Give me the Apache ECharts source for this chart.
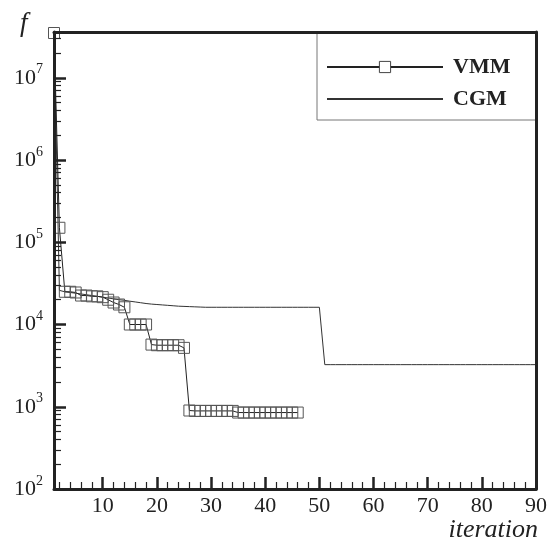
<!DOCTYPE html>
<html>
<head>
<meta charset="utf-8">
<script src="https://cdn.jsdelivr.net/npm/echarts@6/dist/echarts.min.js"></script>
<style>
  html, body { margin: 0; padding: 0; background: #fff; }
  #lineChart { width: 550px; height: 542px; }
</style>
</head>
<body>
<div id="lineChart"></div>
<script>
// f value per iteration (iteration = index + 1)
const vmmValues = [
  3.5e7, 1.5e5, 2.5e4, 2.5e4, 2.45e4, 2.25e4, 2.25e4, 2.2e4, 2.2e4, 2.15e4,
  2.0e4, 1.85e4, 1.75e4, 1.62e4, 1.0e4, 1.0e4, 1.0e4, 1.0e4, 5.7e3, 5.6e3,
  5.6e3, 5.6e3, 5.6e3, 5.6e3, 5.2e3, 900, 890, 890, 890, 890,
  890, 890, 890, 890, 850, 850, 850, 850, 850, 850,
  850, 850, 850, 850, 850, 850
];
const cgmValues = [
  3.5e7, 2.6e4, 2.5e4, 2.45e4, 2.4e4, 2.35e4, 2.3e4, 2.25e4, 2.2e4, 2.15e4,
  2.1e4, 2.05e4, 2.0e4, 1.97e4, 1.92e4, 1.88e4, 1.84e4, 1.8e4, 1.77e4, 1.75e4,
  1.73e4, 1.71e4, 1.69e4, 1.67e4, 1.66e4, 1.65e4, 1.64e4, 1.63e4, 1.62e4, 1.62e4,
  1.62e4, 1.62e4, 1.62e4, 1.62e4, 1.62e4, 1.62e4, 1.62e4, 1.62e4, 1.62e4, 1.62e4,
  1.62e4, 1.62e4, 1.62e4, 1.62e4, 1.62e4, 1.62e4, 1.62e4, 1.62e4, 1.62e4, 1.62e4,
  3.25e3, 3.25e3, 3.25e3, 3.25e3, 3.25e3, 3.25e3, 3.25e3, 3.25e3, 3.25e3, 3.25e3,
  3.25e3, 3.25e3, 3.25e3, 3.25e3, 3.25e3, 3.25e3, 3.25e3, 3.25e3, 3.25e3, 3.25e3,
  3.25e3, 3.25e3, 3.25e3, 3.25e3, 3.25e3, 3.25e3, 3.25e3, 3.25e3, 3.25e3, 3.25e3,
  3.25e3, 3.25e3, 3.25e3, 3.25e3, 3.25e3, 3.25e3, 3.25e3, 3.25e3, 3.25e3, 3.25e3
];
const xLabels = [10, 20, 30, 40, 50, 60, 70, 80, 90];
const xMajorTicks = [10, 20, 30, 40, 50, 60, 70, 80];
const xMinorTicks = [2, 4, 6, 8, 12, 14, 16, 18, 22, 24, 26, 28, 32, 34, 36, 38,
  42, 44, 46, 48, 52, 54, 56, 58, 62, 64, 66, 68, 72, 74, 76, 78, 82, 84, 86, 88];
const yDecades = [2, 3, 4, 5, 6, 7]; // exponents: 10^2 .. 10^7
const yMinorMult = [2, 3, 4, 5, 6, 7, 8, 9];
const xMin = 1, xMax = 90;
const yMin = 2, yMax = Math.log10(3.6e7);

const serif = "'Liberation Serif', 'DejaVu Serif', serif";
const ink = "#222";

// log-spaced minor ticks (2..9 x 10^n) on the log10 value axis
const yMinorTicks = [];
yDecades.forEach(function (d) {
  yMinorMult.forEach(function (m) {
    const v = d + Math.log10(m);
    if (v < yMax) yMinorTicks.push(v);
  });
});

function toPoints(values) {
  return values.map(function (v, i) { return [i + 1, Math.log10(v)]; });
}

const chart = echarts.init(document.getElementById("lineChart"), null, { renderer: "canvas" });

const frameLine = { show: true, onZero: false, lineStyle: { color: ink, width: 3 } };

const option = {
  animation: false,
  backgroundColor: "#fff",
  title: [
    {
      text: "f", left: 20, top: 10, padding: 0,
      textStyle: { fontFamily: serif, fontStyle: "italic", fontWeight: "normal", fontSize: 27, color: ink }
    },
    {
      text: "iteration", right: 12, top: 517, padding: 0,
      textStyle: { fontFamily: serif, fontStyle: "italic", fontWeight: "normal", fontSize: 26, color: ink }
    }
  ],
  legend: {
    orient: "vertical",
    left: 317,
    top: 32,
    padding: [24, 26, 10, 9],
    itemGap: 10,
    itemWidth: 116,
    itemHeight: 14,
    backgroundColor: "#fff",
    borderColor: "#777",
    borderWidth: 1,
    borderRadius: 0,
    selectedMode: false,
    z: 2,
    textStyle: { fontFamily: serif, fontWeight: "bold", fontSize: 22, color: ink, padding: [0, 0, 0, 5] },
    data: [
      { name: "VMM", itemStyle: { color: "#fff", borderColor: "#444", borderWidth: 1 } },
      { name: "CGM", itemStyle: { color: "transparent", borderColor: "transparent", borderWidth: 0 } }
    ]
  },
  grid: { left: 54, right: 14, top: 32, bottom: 53, containLabel: false },
  xAxis: [
    {
      type: "value", position: "bottom", min: xMin, max: xMax, z: 10,
      axisLine: frameLine,
      axisTick: { show: true, inside: true, length: 12, customValues: xMajorTicks, lineStyle: { color: ink, width: 2.5 } },
      axisLabel: {
        show: true, margin: 6, customValues: xLabels,
        fontFamily: serif, fontSize: 22, color: ink
      },
      splitLine: { show: false }
    },
    {
      type: "value", position: "bottom", min: xMin, max: xMax, z: 10,
      axisLine: { show: false, onZero: false },
      axisTick: { show: true, inside: true, length: 7, customValues: xMinorTicks, lineStyle: { color: ink, width: 1.2 } },
      axisLabel: { show: false },
      splitLine: { show: false }
    },
    {
      type: "value", position: "top", min: xMin, max: xMax, z: 10,
      axisLine: frameLine,
      axisTick: { show: false }, axisLabel: { show: false }, splitLine: { show: false }
    }
  ],
  yAxis: [
    {
      type: "value", position: "left", min: yMin, max: yMax, z: 10,
      axisLine: frameLine,
      axisTick: { show: true, inside: true, length: 12, customValues: yDecades, lineStyle: { color: ink, width: 2.5 } },
      axisLabel: {
        show: true, margin: 11, customValues: yDecades,
        formatter: function (v) { return "{b|10}{s|" + Math.round(v) + "}"; },
        rich: {
          b: { fontFamily: serif, fontSize: 22, color: ink, lineHeight: 30 },
          s: { fontFamily: serif, fontSize: 14, color: ink, lineHeight: 14, verticalAlign: "top" }
        }
      },
      splitLine: { show: false }
    },
    {
      type: "value", position: "left", min: yMin, max: yMax, z: 10,
      axisLine: { show: false, onZero: false },
      axisTick: { show: true, inside: true, length: 7, customValues: yMinorTicks, lineStyle: { color: ink, width: 1.2 } },
      axisLabel: { show: false },
      splitLine: { show: false }
    },
    {
      type: "value", position: "right", min: yMin, max: yMax, z: 10,
      axisLine: frameLine,
      axisTick: { show: false }, axisLabel: { show: false }, splitLine: { show: false }
    }
  ],
  series: [
    {
      name: "VMM",
      type: "line",
      xAxisIndex: 0,
      yAxisIndex: 0,
      data: toPoints(vmmValues),
      color: ink,
      symbol: "rect",
      symbolSize: 11,
      showAllSymbol: true,
      clip: false,
      z: 3,
      lineStyle: { color: ink, width: 1 },
      itemStyle: { color: "transparent", borderColor: "#555", borderWidth: 1 }
    },
    {
      name: "CGM",
      type: "line",
      xAxisIndex: 0,
      yAxisIndex: 0,
      data: toPoints(cgmValues),
      color: "#333",
      symbol: "none",
      z: 2,
      lineStyle: { color: "#333", width: 1 }
    }
  ]
};

chart.setOption(option);
window.addEventListener("resize", () => chart.resize(), true);
</script>
</body>
</html>
